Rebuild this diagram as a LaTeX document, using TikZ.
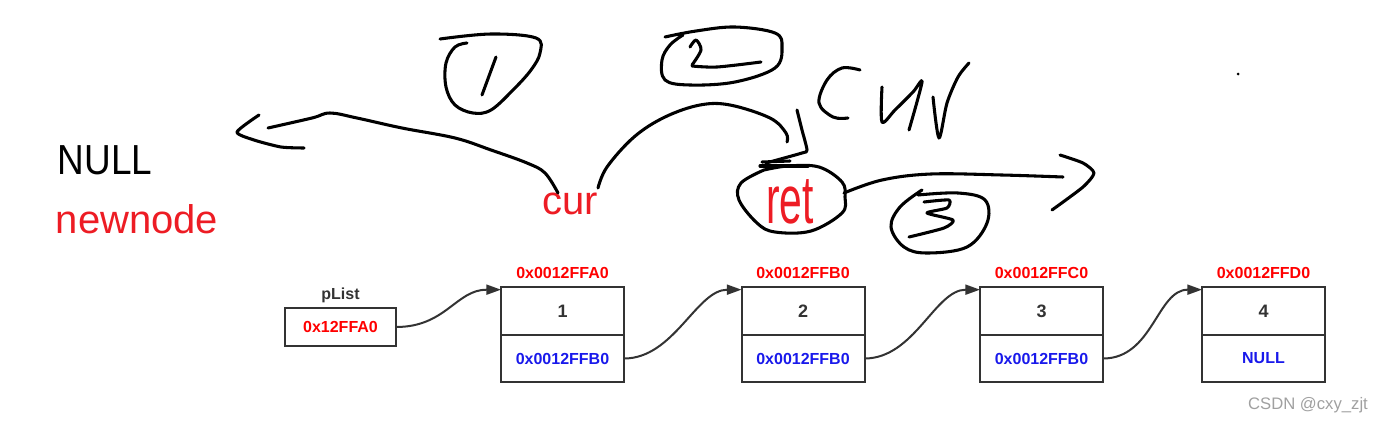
\documentclass[tikz,border=0pt]{standalone}
\usepackage{fontspec}
\setmainfont{Liberation Sans}
\usetikzlibrary{arrows.meta}
\definecolor{lineg}{RGB}{51,51,51}
\definecolor{addred}{RGB}{255,0,0}
\definecolor{addblue}{RGB}{25,25,235}
\definecolor{penred}{RGB}{237,28,36}
\definecolor{wmgray}{RGB}{160,160,160}
\tikzset{
  cell/.style={draw=lineg, line width=1.5pt, outer sep=0pt, minimum width=92.25pt, inner sep=0pt, font=\bfseries\fontsize{12}{14}\selectfont},
  topcell/.style={cell, minimum height=36pt, text=lineg, font=\bfseries\fontsize{13.5}{16}\selectfont},
  botcell/.style={cell, minimum height=35.25pt, text=addblue},
  addr/.style={text=addred, font=\bfseries\fontsize{12}{14}\selectfont},
  link/.style={draw=lineg, line width=1.5pt, -{Triangle[length=11pt,width=7.5pt]}},
  pen/.style={draw=black, line width=2.3pt, line cap=round, line join=round},
  hand/.style={inner sep=0pt}
}
\begin{document}
\begin{tikzpicture}[x=0.75pt,y=-0.75pt]
\useasboundingbox (0,0) rectangle (1388,425);

% typed texts
\node[hand] (null) at (105,160) {\scalebox{0.88}[1]{\fontsize{31.5}{34}\selectfont NULL}};
\node[hand, text=penred] (newnode) at (137,219) {\fontsize{30}{34}\selectfont newnode};
\node[hand, text=penred] (cur) at (570,204) {\fontsize{30}{34}\selectfont cur};
\node[hand, text=penred] (ret) at (790,202) {\scalebox{0.6}[1]{\fontsize{51}{56}\selectfont ret}};

% pList
\node[cell, minimum width=83.25pt, minimum height=28.5pt, text=addred] (plist) at (340.5,327) {0x12FFA0};
\node[text=lineg, font=\bfseries\fontsize{12}{14}\selectfont] (plistlab) at (340.5,295) {pList};

% list nodes
\foreach \i/\x/\v/\a/\n in {1/562.5/1/0x0012FFA0/0x0012FFB0, 2/803/2/0x0012FFB0/0x0012FFB0, 3/1041.5/3/0x0012FFC0/0x0012FFB0, 4/1263.5/4/0x0012FFD0/NULL}{
  \node[topcell] (t\i) at (\x,311) {\v};
  \node[botcell, anchor=north] (b\i) at (t\i.south) {\n};
  \node[addr] (a\i) at (\x,273) {\a};
}

\draw[link] (plist.east) .. controls +(50,0) and +(-45,0) .. ([yshift=-2pt]t1.north west);
\draw[link] (b1.east) .. controls +(50,0) and +(-45,0) .. ([yshift=-2pt]t2.north west);
\draw[link] (b2.east) .. controls +(50,0) and +(-45,0) .. ([yshift=-2pt]t3.north west);
\draw[link] (b3.east) .. controls +(50,0) and +(-45,0) .. ([yshift=-2pt]t4.north west);

% watermark
\node[text=wmgray, font=\fontsize{12.5}{14}\selectfont] (wm) at (1308,405) {CSDN @cxy\_zjt};

% handwriting: circle 1
\draw[pen] plot[smooth, tension=0.6] coordinates {(440,39) (491,34) (536,38) (540,53) (531,70) (513,90) (491,110) (473,113) (455,105) (446,87) (446,63) (455,47) (467,43)};
\draw[pen] (496,57) -- (482,95);
% stroke 1 (cur -> left)
\draw[pen] plot[smooth, tension=0.6] coordinates {(558,193) (545,173) (527,163) (491,150) (455,138) (402,128) (357,118) (330,113) (312,118) (268,128)};
\draw[pen] plot[smooth, tension=0.4] coordinates {(259,115) (237,132) (254,140) (281,147) (304,148)};
% circle 2
\draw[pen] plot[smooth, tension=0.6] coordinates {(665,37) (696,31) (735,27) (775,33) (782,47) (775,68) (735,82) (690,85) (665,80) (662,60) (670,45) (683,35)};
\draw[pen] plot[smooth, tension=0.5] coordinates {(690,47) (696,40) (701,50) (692,65)};
\draw[pen] plot[smooth, tension=0.5] coordinates {(692,66) (717,67) (761,62)};
% stroke 2 (cur -> ret)
\draw[pen] plot[smooth, tension=0.6] coordinates {(598,188) (607,167) (634,137) (665,117) (700,105) (730,105) (770,118) (786,133) (787,142)};
\draw[pen] plot[smooth, tension=0.4] coordinates {(797,110) (802,130) (807,150) (802,153) (766,163)};
\draw[pen] (760,166) -- (808,166);
\draw[pen] (762,162) -- (790,161);
% handwritten cur
\draw[pen] plot[smooth, tension=0.6] coordinates {(860,70) (842,68) (827,80) (819,103) (833,117) (848,118)};
\draw[pen] plot[smooth, tension=0.5] coordinates {(882,87) (882,122) (895,110) (913,92) (922,82) (909,130)};
\draw[pen] plot[smooth, tension=0.5] coordinates {(933,97) (939,138) (947,103) (958,77) (969,63)};
% ret circle
\draw[pen] plot[smooth, tension=0.6] coordinates {(764,170) (741,183) (739,200) (757,223) (775,232) (811,231) (842,213) (845,197) (842,182) (819,167) (788,166) (764,170)};
% stroke 3 (ret -> right)
\draw[pen] plot[smooth, tension=0.6] coordinates {(844,193) (882,180) (931,174) (1002,175) (1063,177)};
\draw[pen] plot[smooth, tension=0.4] coordinates {(1060,155) (1083,163) (1094,173) (1083,187) (1052,210)};
% circle 3
\draw[pen] plot[smooth, tension=0.6] coordinates {(922,190) (900,207) (891,227) (904,247) (927,253) (967,247) (987,223) (985,200) (958,193) (918,195)};
\draw[pen] plot[smooth, tension=0.4] coordinates {(924,202) (949,200) (947,208) (927,213) (953,220) (944,228) (909,237)};
% dot
\fill (1238,74) circle (1.5);
\end{tikzpicture}
\end{document}
